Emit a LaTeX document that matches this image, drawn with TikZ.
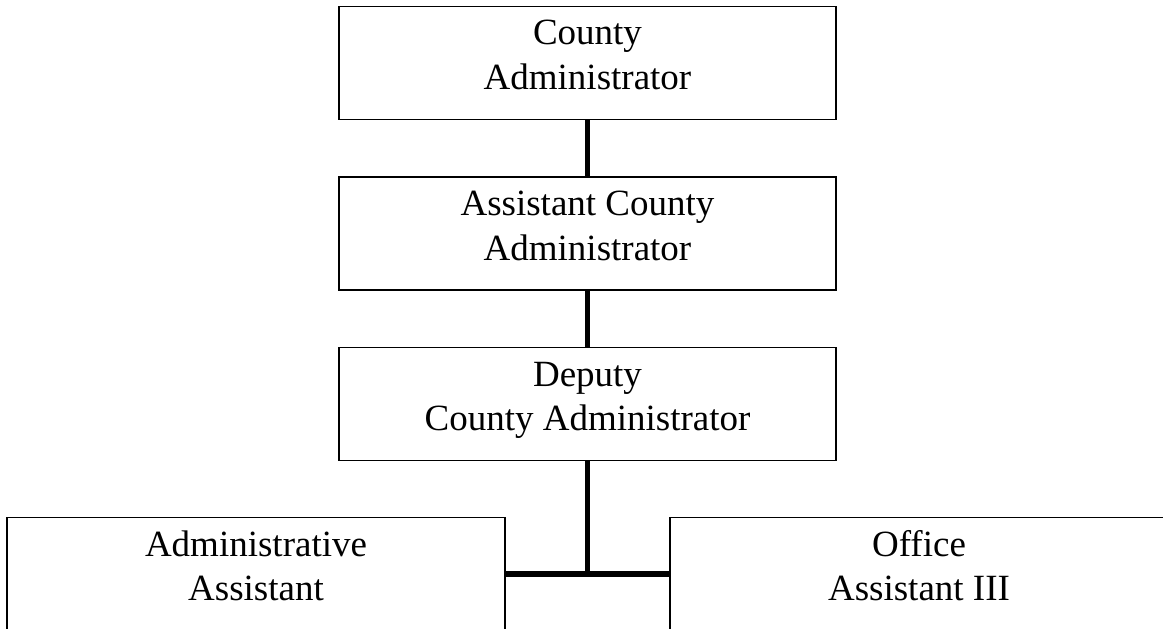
\documentclass[tikz,border=0pt]{standalone}
\usepackage{fontspec}
\setmainfont{Liberation Serif}
\begin{document}
\begin{tikzpicture}[x=1pt,y=-1pt,
  orgbox/.style={draw=black, line width=1.8pt, fill=white, rectangle,
    minimum width=497.5pt, inner sep=0pt,
    text height=38.5pt, text depth=74.5pt,
    font=\fontsize{37}{44.5}\selectfont},
  link/.style={line width=5.5pt, draw=black}]
  \clip (0,0) rectangle (1163,629);
  \fill[white] (0,0) rectangle (1163,629);

  % boxes (centres; each box is 113 high)
  \node[orgbox] (ca)  at (587.5,63)  {\begin{tabular}[t]{@{}c@{}}County\\Administrator\end{tabular}};
  \node[orgbox] (aca) at (587.5,233.5) {\begin{tabular}[t]{@{}c@{}}Assistant County\\Administrator\end{tabular}};
  \node[orgbox] (dca) at (587.5,404)   {\begin{tabular}[t]{@{}c@{}}Deputy\\County Administrator\end{tabular}};
  \node[orgbox] (aa)  at (256,574)     {\begin{tabular}[t]{@{}c@{}}Administrative\\Assistant\end{tabular}};
  \node[orgbox] (oa)  at (919,574)     {\begin{tabular}[t]{@{}c@{}}Office\\Assistant III\end{tabular}};

  % reporting lines
  \draw[link] (ca.south) -- (aca.north);
  \draw[link] (aca.south) -- (dca.north);
  \draw[link] (aa.east) -- (oa.west);
  \draw[link] (dca.south) -- (dca.south |- aa.east);
\end{tikzpicture}
\end{document}
